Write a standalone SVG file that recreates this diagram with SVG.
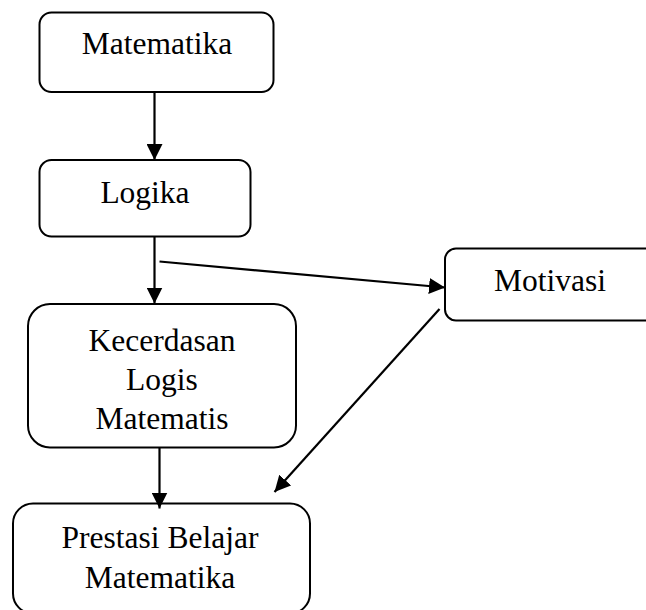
<svg xmlns="http://www.w3.org/2000/svg" width="646" height="610" viewBox="0 0 646 610">
<style>
.box{fill:#fff;stroke:#000;stroke-width:2}
.t{font-family:"Liberation Serif","Times New Roman",serif;font-size:31.5px;fill:#000;text-anchor:middle}
.c{stroke:#000;stroke-width:2.2;fill:none}
</style>
<defs>
<marker id="ah" viewBox="0 0 10 10" refX="10" refY="5" markerWidth="16" markerHeight="16" markerUnits="userSpaceOnUse" orient="auto">
<path d="M0,0 L10,5 L0,10 z" fill="#000"/>
</marker>
</defs>
<rect width="646" height="610" fill="#fff"/>
<g id="n-matematika">
<rect class="box" x="39.5" y="12.5" width="234" height="79.5" rx="12"/>
<text class="t" x="157" y="54">Matematika</text>
</g>
<g id="n-logika">
<rect class="box" x="39.5" y="160" width="211" height="76.5" rx="12"/>
<text class="t" x="145" y="202.5">Logika</text>
</g>
<g id="n-kecerdasan">
<rect class="box" x="28" y="304" width="268" height="143.5" rx="22"/>
<text class="t" x="162" y="351">Kecerdasan</text>
<text class="t" x="162" y="390">Logis</text>
<text class="t" x="162" y="429">Matematis</text>
</g>
<g id="n-motivasi">
<rect class="box" x="445" y="248.5" width="230" height="72" rx="11"/>
<text class="t" x="550" y="291">Motivasi</text>
</g>
<g id="n-prestasi">
<rect class="box" x="13" y="503.5" width="297" height="110" rx="20"/>
<text class="t" x="160" y="548">Prestasi Belajar</text>
<text class="t" x="160" y="587.5">Matematika</text>
</g>
<g id="connectors">
<line class="c" x1="154.5" y1="92" x2="154.5" y2="160" marker-end="url(#ah)"/>
<line class="c" x1="154.5" y1="236.5" x2="154.5" y2="303.5" marker-end="url(#ah)"/>
<line class="c" x1="159.5" y1="261.5" x2="445" y2="287.5" marker-end="url(#ah)"/>
<line class="c" x1="159.5" y1="447.5" x2="159.5" y2="508.5" marker-end="url(#ah)"/>
<line class="c" x1="439.5" y1="309" x2="274.5" y2="492" marker-end="url(#ah)"/>
</g>
</svg>
